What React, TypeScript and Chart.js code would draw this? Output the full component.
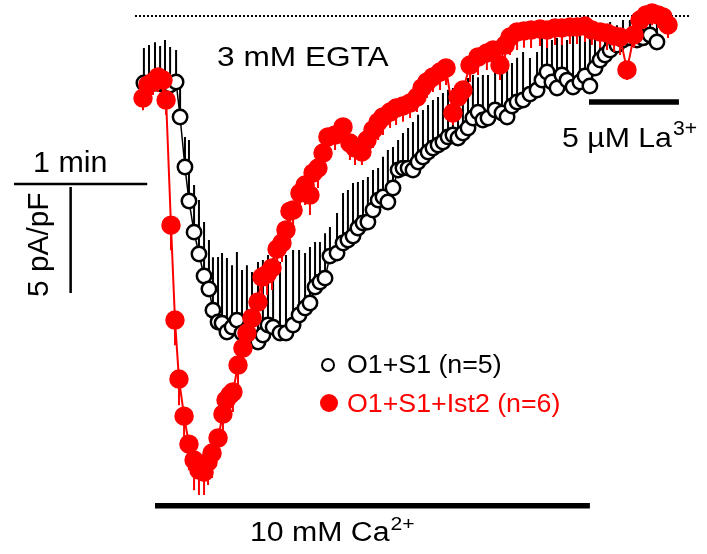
import React, { useEffect, useRef } from "react";
import { Chart, registerables } from "chart.js";
Chart.register(...registerables);

// time in s (0 = start of 10 mM Ca2+), current density in pA/pF
const blackTime = [-5.0,-2.7,0,2.3,4.5,6.8,9.5,11.3,13.5,15.3,
17.6,19.8,22.1,24.3,26.1,28.4,30.2,32.4,34.7,36.9,
39.2,41.4,43.7,46.4,48.6,50.9,53.2,56.3,59.0,62.2,
64.9,67.6,69.8,72.1,74.3,76.6,78.8,82.0,84.7,86.9,
89.2,91.4,93.7,95.9,98.2,100.5,102.7,104.9,107.2,109.5,
111.7,114.0,116.2,118.5,120.7,123.0,125.2,127.5,129.7,132.0,
134.2,136.5,138.7,141.0,143.2,145.5,147.7,150.0,153.2,156.3,
158.6,160.8,163.1,165.8,168.9,172.1,174.3,176.6,178.8,181.1,
183.3,185.6,188.3,191.4,193.7,195.9,198.2,200.5,202.7,205.0,
208.1,210.8,213.9,217.1,219.8,223.0,226.1];
const blackCurrent = [-3.21,-3.30,-3.21,-3.25,-3.21,-3.30,-3.16,-4.81,-7.17,-8.77,
-10.24,-11.27,-12.31,-12.92,-13.92,-14.48,-14.53,-14.95,-14.72,-14.39,
-15.00,-15.24,-15.33,-15.42,-15.09,-14.62,-14.72,-15.00,-15.00,-14.62,
-14.15,-13.82,-13.58,-12.83,-12.59,-12.41,-11.37,-11.23,-10.75,-10.61,
-10.42,-10.05,-9.81,-9.76,-9.20,-8.73,-8.58,-8.82,-8.16,-7.31,
-7.22,-7.22,-7.31,-6.93,-6.70,-6.46,-6.27,-6.13,-5.99,-5.75,
-5.66,-5.80,-5.57,-5.33,-4.86,-4.58,-4.95,-4.86,-4.48,-4.62,
-4.81,-4.29,-4.10,-4.01,-3.73,-3.54,-3.07,-2.69,-3.16,-3.44,
-2.83,-3.07,-3.40,-3.16,-2.88,-3.35,-2.50,-2.12,-1.89,-1.65,
-1.42,-1.18,-1.08,-1.18,-1.08,-0.94,-1.27];
const blackSem = [1.65,1.89,1.93,1.79,2.03,1.79,1.51,1.37,1.42,2.88,
2.22,2.55,2.55,2.31,2.50,3.07,3.30,3.49,2.92,3.21,
2.97,3.44,3.21,3.77,3.54,3.30,3.25,3.35,3.68,3.54,
3.07,2.59,2.64,2.12,1.89,2.12,1.37,1.89,2.36,2.36,
2.50,2.17,2.03,2.12,1.89,1.51,1.89,2.45,1.93,1.42,
1.65,1.89,2.26,2.22,2.22,2.22,2.26,2.26,2.31,2.22,
2.22,2.50,2.41,2.36,2.03,1.65,2.12,2.03,2.03,1.93,
2.31,2.03,2.08,2.26,1.70,1.79,2.03,1.42,1.98,2.36,
1.75,1.89,2.59,2.31,2.03,2.41,1.79,1.56,1.42,1.32,
0.94,0.94,0.85,1.04,0.94,0.94,1.13];

const redTime = [-5.4,-3.2,-0.9,1.4,3.6,5.0,7.2,9.0,10.8,13.1,
15.3,17.6,19.8,22.1,23.9,25.7,28.4,30.6,32.0,33.8,
35.1,37.4,39.6,41.4,43.7,46.4,48.2,50.5,52.7,55.0,
57.2,59.0,60.8,62.2,65.3,67.6,69.8,71.2,73.4,75.7,
77.9,81.1,84.7,87.8,90.1,93.2,95.5,98.2,100.5,102.7,
105.9,108.6,111.7,114.9,118.0,120.3,122.5,125.2,128.4,131.1,
134.2,136.5,138.7,141.9,145.5,149.5,152.3,155.4,157.7,159.9,
163.1,166.2,169.4,173.4,176.6,180.2,183.3,186.9,190.1,193.7,
196.8,200.5,203.6,206.8,209.5,212.6,215.8,218.5,221.2,223.9,
226.6,228.8,231.1];
const redCurrent = [-3.92,-3.30,-3.16,-2.92,-3.07,-4.01,-9.91,-14.39,-17.17,-18.92,
-20.24,-20.99,-21.46,-21.56,-21.08,-20.66,-19.95,-18.82,-18.16,-17.92,
-17.78,-16.51,-15.71,-15.00,-14.29,-13.54,-12.36,-12.22,-11.93,-11.04,
-10.75,-10.14,-9.25,-9.20,-8.40,-8.02,-8.49,-7.45,-7.22,-6.51,
-5.75,-5.66,-5.28,-6.04,-6.27,-6.46,-5.90,-5.42,-5.05,-4.81,
-4.58,-4.39,-4.29,-4.15,-3.87,-3.44,-3.16,-2.92,-2.69,-2.50,
-4.62,-3.87,-3.54,-2.36,-1.98,-1.79,-1.65,-2.36,-1.42,-1.04,
-0.80,-0.75,-0.71,-0.66,-0.71,-0.61,-0.61,-0.57,-0.57,-0.52,
-0.71,-0.80,-0.85,-0.99,-1.04,-2.59,-0.94,-0.24,0.00,0.09,
0.00,-0.09,-0.47];
const redSem = [0.57,0.71,0.61,0.71,0.71,0.71,1.18,1.18,1.23,1.13,
1.23,1.42,1.18,1.08,1.08,1.18,1.04,0.99,0.94,0.94,
0.94,0.94,1.04,1.04,1.04,1.08,1.08,0.99,1.04,0.99,
0.90,0.94,0.90,0.85,0.90,0.94,0.94,1.04,0.94,1.04,
0.99,0.71,0.85,0.80,0.80,0.61,0.71,0.85,0.85,0.85,
0.75,0.80,0.75,0.71,0.71,0.80,0.75,0.71,0.85,0.80,
0.57,0.71,0.71,0.80,0.85,0.80,0.85,0.71,0.71,0.85,
0.85,0.80,0.85,0.80,0.85,0.80,0.80,0.80,0.80,0.75,
0.71,0.75,0.80,0.75,0.85,0.47,0.61,0.57,0.61,0.57,
0.61,0.61,0.61];

const seriesLabels = ["O1+S1 (n=5)", "O1+S1+Ist2 (n=6)"];
const caPeriod = [0, 195.9];
const laPeriod = [195.5, 236.0];
const scaleBarTime = 60; // 1 min
const scaleBarCurrent = 5; // 5 pA/pF

const X_MIN = -69.82, X_MAX = 248.65, Y_MIN = -25.42, Y_MAX = 0.7075;
const FONT = "'Liberation Sans', Arial, sans-serif";
const RED = "#ff0000";

function drawRich(ctx: CanvasRenderingContext2D, parts: { t: string; sup?: boolean }[], x: number, y: number, size: number, sx: number, color: string) {
  ctx.save();
  ctx.translate(x, y);
  ctx.scale(sx, 1);
  ctx.fillStyle = color;
  ctx.textBaseline = "alphabetic";
  ctx.textAlign = "left";
  let cx = 0;
  for (const p of parts) {
    const s = p.sup ? size * 0.7 : size;
    ctx.font = `${s}px ${FONT}`;
    ctx.fillText(p.t, cx + (p.sup ? 1 : 0), p.sup ? -size * 0.42 : 0);
    cx += ctx.measureText(p.t).width;
  }
  ctx.restore();
}

const errorBarPlugin = {
  id: "errBars",
  beforeDatasetDraw(chart: any, args: any) {
    const ds: any = chart.data.datasets[args.index];
    const { ctx } = chart;
    const xs = chart.scales.x, ys = chart.scales.y;
    ctx.save();
    ctx.strokeStyle = ds.semColor;
    ctx.lineWidth = 2;
    ctx.beginPath();
    ds.data.forEach((p: any, i: number) => {
      const px = xs.getPixelForValue(p.x);
      ctx.moveTo(px, ys.getPixelForValue(p.y));
      ctx.lineTo(px, ys.getPixelForValue(p.y + ds.semDir * ds.sem[i]));
    });
    ctx.stroke();
    ctx.restore();
  },
};

const annotationPlugin = {
  id: "annot",
  beforeDatasetsDraw(chart: any) {
    const { ctx } = chart;
    const xs = chart.scales.x, ys = chart.scales.y;
    ctx.save();
    ctx.strokeStyle = "#000";
    ctx.lineWidth = 2;
    ctx.setLineDash([2, 2]);
    ctx.beginPath();
    ctx.moveTo(xs.getPixelForValue(-9), ys.getPixelForValue(0) + 1);
    ctx.lineTo(xs.getPixelForValue(241), ys.getPixelForValue(0) + 1);
    ctx.stroke();
    ctx.restore();
  },
  afterDatasetsDraw(chart: any) {
    const { ctx } = chart;
    const xs = chart.scales.x, ys = chart.scales.y;
    ctx.save();
    // scale bars
    ctx.strokeStyle = "#000";
    ctx.lineWidth = 2.5;
    const t0 = -63.5, iH = -7.97;
    ctx.beginPath();
    ctx.moveTo(xs.getPixelForValue(t0), ys.getPixelForValue(iH));
    ctx.lineTo(xs.getPixelForValue(t0 + scaleBarTime), ys.getPixelForValue(iH));
    const tv = -38.0, iV = -8.11;
    ctx.moveTo(xs.getPixelForValue(tv), ys.getPixelForValue(iV));
    ctx.lineTo(xs.getPixelForValue(tv), ys.getPixelForValue(iV - scaleBarCurrent));
    ctx.stroke();
    // stimulus bars
    ctx.lineWidth = 5.5;
    ctx.beginPath();
    ctx.moveTo(xs.getPixelForValue(caPeriod[0]), ys.getPixelForValue(-23.14));
    ctx.lineTo(xs.getPixelForValue(caPeriod[1]), ys.getPixelForValue(-23.14));
    ctx.moveTo(xs.getPixelForValue(laPeriod[0]), ys.getPixelForValue(-4.1));
    ctx.lineTo(xs.getPixelForValue(laPeriod[1]), ys.getPixelForValue(-4.1));
    ctx.stroke();

    // texts
    drawRich(ctx, [{ t: "1 min" }], 33, 172, 29, 1.05, "#000");
    drawRich(ctx, [{ t: "3 mM EGTA" }], 217, 66, 28, 1.13, "#000");
    drawRich(ctx, [{ t: "5 \u00B5M La" }, { t: "3+", sup: true }], 562, 147, 28, 1.08, "#000");
    drawRich(ctx, [{ t: "10 mM Ca" }, { t: "2+", sup: true }], 250, 541, 27, 1.12, "#000");
    // rotated
    ctx.save();
    ctx.translate(48, 297);
    ctx.rotate(-Math.PI / 2);
    ctx.scale(1.03, 1);
    ctx.font = `29px ${FONT}`;
    ctx.fillStyle = "#000";
    ctx.fillText("5 pA/pF", 0, 0);
    ctx.restore();

    // legend
    ctx.beginPath();
    ctx.arc(328, 365, 6, 0, Math.PI * 2);
    ctx.fillStyle = "#fff";
    ctx.fill();
    ctx.lineWidth = 2;
    ctx.strokeStyle = "#000";
    ctx.stroke();
    drawRich(ctx, [{ t: seriesLabels[0] }], 347, 373, 25, 1.07, "#000");
    ctx.beginPath();
    ctx.arc(329, 403, 9, 0, Math.PI * 2);
    ctx.fillStyle = RED;
    ctx.fill();
    drawRich(ctx, [{ t: seriesLabels[1] }], 347, 412, 25, 1.07, RED);
    ctx.restore();
  },
};

export default function App() {
  const ref = useRef<HTMLCanvasElement>(null);
  useEffect(() => {
    if (!ref.current) return;
    const chart = new Chart(ref.current, {
      type: "scatter",
      data: {
        datasets: [
          {
            label: seriesLabels[1],
            data: redTime.map((t, i) => ({ x: t, y: redCurrent[i] })),
            showLine: true,
            borderColor: RED,
            borderWidth: 2,
            pointRadius: 9,
            pointBorderWidth: 1.5,
            pointBackgroundColor: RED,
            pointBorderColor: RED,
            order: 0,
            clip: false,
            sem: redSem,
            semDir: -1,
            semColor: RED,
          } as any,
          {
            label: seriesLabels[0],
            data: blackTime.map((t, i) => ({ x: t, y: blackCurrent[i] })),
            showLine: true,
            borderColor: "#000",
            borderWidth: 1.5,
            pointRadius: 7.2,
            pointBorderWidth: 2.5,
            pointBackgroundColor: "#fff",
            pointBorderColor: "#000",
            order: 1,
            clip: false,
            sem: blackSem,
            semDir: 1,
            semColor: "#000",
          } as any,
        ],
      },
      options: {
        animation: false,
        responsive: false,
        devicePixelRatio: 1,
        layout: { padding: 0, autoPadding: false },
        plugins: { legend: { display: false }, tooltip: { enabled: false }, title: { display: false } },
        scales: {
          x: { type: "linear", min: X_MIN, max: X_MAX, display: false },
          y: { type: "linear", min: Y_MIN, max: Y_MAX, display: false },
        },
      },
      plugins: [errorBarPlugin, annotationPlugin],
    });
    return () => chart.destroy();
  }, []);
  return (
    <div style={{ position: "fixed", left: 0, top: 0, width: 707, height: 554, background: "#fff" }}>
      <canvas ref={ref} width={707} height={554} style={{ display: "block" }} />
    </div>
  );
}
